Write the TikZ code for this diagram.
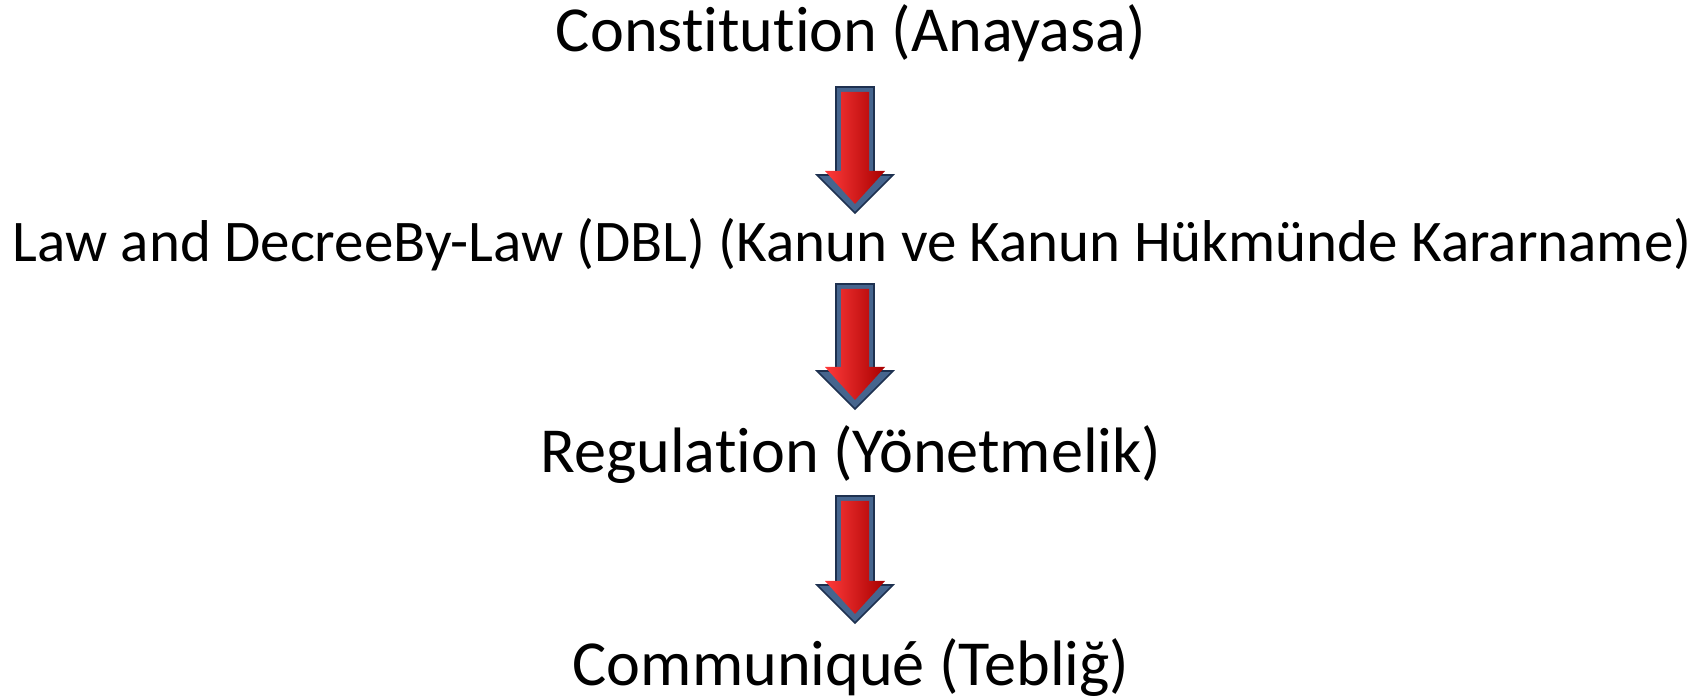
\documentclass[tikz,border=0pt]{standalone}
\usepackage{fontspec}
\setmainfont{Carlito}[Ligatures=NoCommon]
\usetikzlibrary{calc}

\definecolor{arrdark}{HTML}{1E3150}
\definecolor{arrrim}{HTML}{46658E}
\definecolor{arrred}{HTML}{D00008}
\definecolor{arrlight}{HTML}{FF3A3A}
\definecolor{arrshade}{HTML}{A80000}

% block arrow from #1 (top) to #2 (tip)
\newcommand\blockarr[2]{%
  \path let \p1=(#1), \p2=(#2) in [draw=arrdark,line width=0.8pt,fill=arrrim]
    (\x1-9.5pt,\y1) -- (\x1+9.5pt,\y1) -- (\x1+9.5pt,\y2+19pt) -- (\x1+19pt,\y2+19pt)
    -- (\x1,\y2) -- (\x1-19pt,\y2+19pt) -- (\x1-9.5pt,\y2+19pt) -- cycle;
  \path let \p1=(#1), \p2=(#2) in [left color=arrlight,middle color=arrred,right color=arrshade]
    (\x1-7pt,\y1-2.5pt) -- (\x1+7pt,\y1-2.5pt) -- (\x1+7pt,\y2+21pt) -- (\x1+15pt,\y2+21pt)
    -- (\x1,\y2+4.5pt) -- (\x1-15pt,\y2+21pt) -- (\x1-7pt,\y2+21pt) -- cycle;
}

\begin{document}
\begin{tikzpicture}[x=0.5pt,y=0.5pt]
\tikzstyle{lvl}=[inner sep=0pt,anchor=base,font=\fontsize{32.1}{39}\selectfont]
\useasboundingbox (0,0) rectangle (1699,-699);
% levels of legislation
\node[lvl] (t1) at (851,-52) {Constitution (Anayasa)};
\node[lvl,font=\fontsize{29.5}{36}\selectfont] (t2) at (852,-262) {Law and DecreeBy-Law (DBL) (Kanun ve Kanun Hükmünde Kararname)};
\node[lvl] (t3) at (851,-473) {Regulation (Yönetmelik)};
\node[lvl] (t4) at (851,-686) {Communiqué (Tebliğ)};
% arrows between them
\blockarr{$(t1.base)+(4,-35)$}{$(t2.base)+(3,49)$}
\blockarr{$(t2.base)+(3,-22)$}{$(t3.base)+(4,64)$}
\blockarr{$(t3.base)+(4,-23)$}{$(t4.base)+(4,63)$}
\end{tikzpicture}
\end{document}
